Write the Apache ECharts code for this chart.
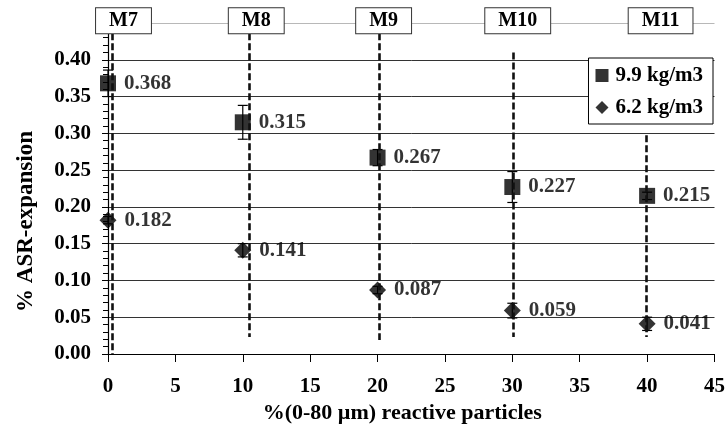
<!DOCTYPE html>
<html>
<head>
<meta charset="utf-8">
<script src="https://cdn.jsdelivr.net/npm/echarts@6/dist/echarts.min.js"></script>
<style>
  html, body { margin: 0; padding: 0; background: #fff; }
  #chart { width: 728px; height: 434px; }
</style>
</head>
<body>
<div id="chart"></div>
<script>
// reactive particle share (x) and mean expansion per alkali content
var particles = [0, 10, 20, 30, 40];
var exp99 = [0.368, 0.315, 0.267, 0.227, 0.215];
var exp62 = [0.182, 0.141, 0.087, 0.059, 0.041];
// error bar half widths
var err99 = [0.018, 0.023, 0.011, 0.021, 0.005];
var err62 = [0.005, 0.009, 0.005, 0.010, 0.009];

// mix labels and their dashed guide lines
var mixNames = ['M7', 'M8', 'M9', 'M10', 'M11'];
var mixLineX = [0.35, 10.45, 20.1, 30.1, 39.9];
var mixLineTop = [0.436, 0.436, 0.436, 0.41, 0.2975];
var mixLineBottom = [0, 0.023, 0.019, 0.023, 0.023];
var mixBoxX = [1.15, 11, 20.45, 30.4, 41];

var yTicks = ['0.00', '0.05', '0.10', '0.15', '0.20', '0.25', '0.30', '0.35', '0.40'];

var serif = '"Liberation Serif", "DejaVu Serif", serif';

function pairs(xs, ys) {
    var out = [];
    for (var i = 0; i < xs.length; i++) out.push([xs[i], ys[i]]);
    return out;
}
function errData(xs, ys, es) {
    var out = [];
    for (var i = 0; i < xs.length; i++) out.push([xs[i], ys[i] - es[i], ys[i] + es[i]]);
    return out;
}
function renderErr(params, api) {
    var x = api.value(0);
    var lo = api.coord([x, api.value(1)]);
    var hi = api.coord([x, api.value(2)]);
    var cap = 5;
    var st = { stroke: '#000', lineWidth: 1.2 };
    return {
        type: 'group',
        children: [
            { type: 'line', shape: { x1: lo[0], y1: lo[1], x2: hi[0], y2: hi[1] }, style: st },
            { type: 'line', shape: { x1: lo[0] - cap, y1: lo[1], x2: lo[0] + cap, y2: lo[1] }, style: st },
            { type: 'line', shape: { x1: hi[0] - cap, y1: hi[1], x2: hi[0] + cap, y2: hi[1] }, style: st }
        ]
    };
}

var guideLines = [];
for (var i = 0; i < mixNames.length; i++) {
    guideLines.push([
        { coord: [mixLineX[i], mixLineTop[i]] },
        { coord: [mixLineX[i], mixLineBottom[i]] }
    ]);
}
// the boxed mix names sit on top of short transparent segments
for (var i = 0; i < mixNames.length; i++) {
    guideLines.push([
        { coord: [mixBoxX[i], 0.43], lineStyle: { color: 'rgba(0,0,0,0)' } },
        {
            coord: [mixBoxX[i], 0.436],
            name: mixNames[i],
            label: {
                show: true,
                position: 'end',
                distance: 0,
                formatter: '{b}',
                fontFamily: serif,
                fontWeight: 'bold',
                fontSize: 20,
                color: '#000',
                backgroundColor: '#fff',
                borderColor: '#333',
                borderWidth: 1,
                padding: [3, 13, 2, 13]
            }
        }
    ]);
}

var chart = echarts.init(document.getElementById('chart'));

var labelStyle = {
    show: true,
    position: 'right',
    distance: 8,
    color: '#000',
    fontFamily: serif,
    fontWeight: 'bold',
    fontSize: 21,
    formatter: function (p) { return p.value[1].toFixed(3); }
};

var option = {
    animation: false,
    backgroundColor: '#fff',
    grid: { left: 108, right: 13, top: 23, bottom: 80 },
    legend: {
        data: ['9.9 kg/m3', '6.2 kg/m3'],
        orient: 'vertical',
        right: 15,
        top: 58,
        padding: [7, 10, 6, 7],
        itemGap: 11,
        itemWidth: 13,
        itemHeight: 13,
        backgroundColor: '#fff',
        borderColor: '#000',
        borderWidth: 1,
        borderRadius: 0,
        textStyle: { fontFamily: serif, fontWeight: 'bold', fontSize: 21, color: '#000', padding: [0, 0, 0, 2] }
    },
    xAxis: {
        type: 'value',
        min: 0,
        max: 45,
        interval: 5,
        name: '%(0-80 µm) reactive particles',
        nameLocation: 'middle',
        nameGap: 40,
        nameTextStyle: { fontFamily: serif, fontWeight: 'bold', fontSize: 22, color: '#000', padding: [0, 18, 0, 0] },
        axisLine: { lineStyle: { color: '#000', width: 1.2 } },
        axisTick: { show: true, length: 8, lineStyle: { color: '#000' } },
        axisLabel: { margin: 22, fontFamily: serif, fontWeight: 'bold', fontSize: 21, color: '#000' },
        splitLine: { show: false }
    },
    yAxis: {
        type: 'value',
        min: 0,
        max: 0.45,
        interval: 0.05,
        name: '% ASR-expansion',
        nameLocation: 'middle',
        nameGap: 70,
        nameTextStyle: { fontFamily: serif, fontWeight: 'bold', fontSize: 23, color: '#000', padding: [0, 66, 0, 0] },
        axisLine: { show: true, lineStyle: { color: '#000', width: 1.2 } },
        axisTick: { show: true, length: 6, lineStyle: { color: '#000' } },
        minorTick: { show: true, splitNumber: 5, length: 5, lineStyle: { color: '#000' } },
        axisLabel: {
            margin: 17,
            fontFamily: serif,
            fontWeight: 'bold',
            fontSize: 21,
            color: '#000',
            formatter: function (v, idx) { return yTicks[idx] !== undefined ? yTicks[idx] : ''; }
        },
        splitLine: {
            show: true,
            lineStyle: {
                color: ['#333', '#333', '#333', '#333', '#333', '#333', '#333', '#333', '#333', '#b8b8b8'],
                width: 1
            }
        }
    },
    series: [
        {
            name: 'guides',
            type: 'scatter',
            data: [],
            silent: true,
            markLine: {
                silent: true,
                symbol: ['none', 'none'],
                label: { show: false },
                lineStyle: { type: [7, 3], color: '#111', width: 2.6 },
                data: guideLines
            },
            z: 2
        },
        {
            name: 'err99',
            type: 'custom',
            renderItem: renderErr,
            data: errData(particles, exp99, err99),
            z: 3
        },
        {
            name: 'err62',
            type: 'custom',
            renderItem: renderErr,
            data: errData(particles, exp62, err62),
            z: 3
        },
        {
            name: '9.9 kg/m3',
            type: 'scatter',
            symbol: 'rect',
            symbolSize: 16,
            itemStyle: { color: '#000' },
            label: labelStyle,
            data: pairs(particles, exp99),
            z: 4
        },
        {
            name: '6.2 kg/m3',
            type: 'scatter',
            symbol: 'diamond',
            symbolSize: [17, 17],
            itemStyle: { color: '#000' },
            label: labelStyle,
            data: pairs(particles, exp62),
            z: 4
        }
    ]
};

chart.setOption(option);
window.addEventListener('resize', function () {
    chart.resize();
});
</script>
</body>
</html>
